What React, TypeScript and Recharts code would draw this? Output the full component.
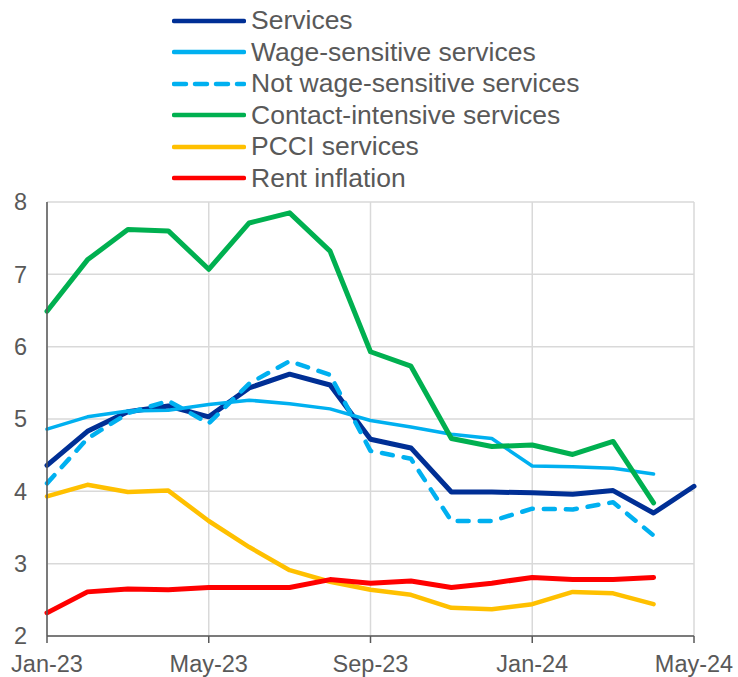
import React from 'react';
import { LineChart, Line, XAxis, YAxis, CartesianGrid, Legend } from 'recharts';

const months = ['Jan-23','Feb-23','Mar-23','Apr-23','May-23','Jun-23','Jul-23','Aug-23','Sep-23','Oct-23','Nov-23','Dec-23','Jan-24','Feb-24','Mar-24','Apr-24','May-24'];
const xTicks = ['Jan-23','May-23','Sep-23','Jan-24','May-24'];
const yTicks = [2,3,4,5,6,7,8];

const services = [4.36,4.83,5.10,5.18,5.03,5.43,5.62,5.47,4.72,4.60,3.99,3.99,3.98,3.96,4.01,3.70,4.07];
const wageSensitive = [4.86,5.03,5.11,5.12,5.20,5.26,5.21,5.14,4.98,4.89,4.79,4.73,4.35,4.34,4.32,4.24,null];
const notWageSensitive = [4.11,4.73,5.08,5.25,4.94,5.49,5.80,5.61,4.56,4.45,3.59,3.59,3.76,3.75,3.85,3.39,null];
const contactIntensive = [6.49,7.20,7.62,7.60,7.07,7.71,7.85,7.32,5.93,5.73,4.73,4.62,4.64,4.51,4.69,3.84,null];
const pcci = [3.93,4.09,3.99,4.01,3.59,3.23,2.91,2.75,2.64,2.57,2.39,2.37,2.44,2.61,2.59,2.44,null];
const rent = [2.32,2.61,2.65,2.64,2.67,2.67,2.67,2.78,2.73,2.76,2.67,2.73,2.81,2.78,2.78,2.81,null];

const seriesConfig = [
  { key: 'services', name: 'Services', values: services, color: '#002F95', width: 5, dash: undefined as string | undefined },
  { key: 'wage', name: 'Wage-sensitive services', values: wageSensitive, color: '#00B0F0', width: 3.5, dash: undefined },
  { key: 'notwage', name: 'Not wage-sensitive services', values: notWageSensitive, color: '#00B0F0', width: 4.5, dash: '11 11' },
  { key: 'contact', name: 'Contact-intensive services', values: contactIntensive, color: '#00B050', width: 5, dash: undefined },
  { key: 'pcci', name: 'PCCI services', values: pcci, color: '#FFC000', width: 4.5, dash: undefined },
  { key: 'rent', name: 'Rent inflation', values: rent, color: '#FF0000', width: 5, dash: undefined },
];

const data = months.map((m, i) => {
  const row: Record<string, any> = { month: m };
  seriesConfig.forEach((s) => { row[s.key] = s.values[i]; });
  return row;
});

const FONT = '"Liberation Sans", Arial, sans-serif';
const TEXT = '#595959';

const renderLegend = () => (
  <div style={{ fontFamily: FONT, color: TEXT }}>
    {seriesConfig.map((s) => (
      <div key={s.key} style={{ display: 'flex', alignItems: 'center', height: 31.5 }}>
        <svg width={74} height={10} style={{ marginLeft: -2, marginRight: 5 }}>
          <line x1={2} y1={5} x2={72} y2={5} stroke={s.color} strokeWidth={4.5}
            strokeDasharray={s.dash ? '12 9' : undefined} strokeLinecap="round" />
        </svg>
        <span style={{ fontSize: 26.5, lineHeight: '31.5px', whiteSpace: 'nowrap' }}>{s.name}</span>
      </div>
    ))}
  </div>
);

export default function App() {
  return (
    <div style={{ position: 'absolute', left: 0, top: 0, background: '#fff' }}>
      <LineChart width={738} height={677} data={data}
        margin={{ top: 202, right: 44, left: 0, bottom: 0 }}>
        <CartesianGrid stroke="#D9D9D9" strokeWidth={1.5} />
        <XAxis dataKey="month" ticks={xTicks} interval={0}
          height={41} tickSize={7} tickMargin={12}
          axisLine={{ stroke: '#595959', strokeWidth: 1.5 }}
          tickLine={{ stroke: '#595959', strokeWidth: 1.5 }}
          tick={{ fill: TEXT, fontSize: 23.5, fontFamily: FONT }} />
        <YAxis domain={[2, 8]} ticks={yTicks} width={47} tickSize={0} tickMargin={20}
          axisLine={{ stroke: '#595959', strokeWidth: 1.5 }} tickLine={false}
          tick={{ fill: TEXT, fontSize: 23.5, fontFamily: FONT }} />
        <Legend layout="vertical" align="center" verticalAlign="middle"
          content={renderLegend}
          wrapperStyle={{ top: 5, left: 174, width: 'auto' }} />
        {seriesConfig.map((s) => (
          <Line key={s.key} dataKey={s.key} name={s.name} stroke={s.color}
            strokeWidth={s.width} strokeDasharray={s.dash} dot={false}
            activeDot={false} strokeLinejoin="round" strokeLinecap="round"
            isAnimationActive={false} />
        ))}
      </LineChart>
    </div>
  );
}
